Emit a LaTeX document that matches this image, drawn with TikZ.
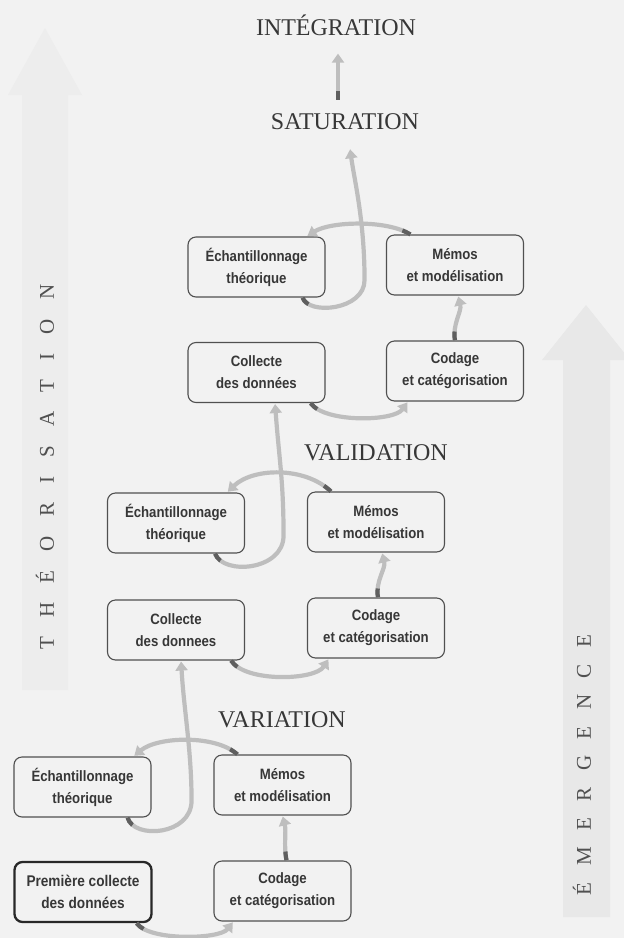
\documentclass[tikz,border=0pt]{standalone}
\usepackage{fontspec}
\setmainfont{Liberation Serif}
\newfontfamily\boxfont{Liberation Sans}[FakeStretch=0.88]
\usetikzlibrary{arrows.meta}
\definecolor{bg}{RGB}{242,242,242}
\definecolor{bandl}{RGB}{237,237,237}
\definecolor{bandr}{RGB}{232,232,232}
\definecolor{boxline}{RGB}{80,80,80}
\definecolor{firstline}{RGB}{40,40,40}
\definecolor{boxtext}{RGB}{55,55,55}
\definecolor{titletext}{RGB}{55,55,55}
\definecolor{sidetext}{RGB}{80,80,80}
\definecolor{flowgray}{RGB}{190,190,190}
\definecolor{flowdark}{RGB}{95,95,95}
\begin{document}
\begin{tikzpicture}[x=1pt,y=1pt,
  box/.style={draw=boxline, line width=1.1pt, rounded corners=8pt, fill=bg,
    minimum width=137pt, minimum height=60pt, align=center, inner sep=2pt,
    text=boxtext, font=\boxfont\bfseries\fontsize{15}{22}\selectfont},
  firstbox/.style={box, line width=2.3pt, draw=firstline,
    font=\boxfont\bfseries\fontsize{15.5}{22}\selectfont},
  title/.style={font=\fontsize{24}{26}\selectfont, text=titletext, inner sep=0pt},
  side/.style={font=\fontsize{21}{24}\selectfont, text=sidetext, inner sep=0pt, rotate=90},
  flow/.style={draw=flowgray, line width=4.2pt, shorten >=1pt,
    -{Triangle[width=12pt,length=9pt]},
    postaction={draw=flowdark, line width=4.2pt, dash pattern=on 9pt off 3000pt, -}},
]
\useasboundingbox (0,0) rectangle (624,-938);
\fill[bg] (0,0) rectangle (624,-938);
% background arrows
\fill[bandl] (22,-690) -- (22,-95) -- (8,-95) -- (45,-28) -- (82,-95) -- (68,-95) -- (68,-690) -- cycle;
\fill[bandr] (563,-917) -- (563,-360) -- (542,-360) -- (586,-305) -- (630,-360) -- (610,-360) -- (610,-917) -- cycle;
% side texts
\node[side] (theo) at (45,-467) {\makebox[365pt][s]{T\hfill H\hfill É\hfill O\hfill R\hfill I\hfill S\hfill A\hfill T\hfill I\hfill O\hfill N}};
\node[side] (emer) at (582,-765) {\makebox[260pt][s]{É\hfill M\hfill E\hfill R\hfill G\hfill E\hfill N\hfill C\hfill E}};
% titles
\node[title] (int) at (336,-25) {INTÉGRATION};
\node[title] (sat) at (345,-122) {SATURATION};
\node[title] (val) at (376,-453) {VALIDATION};
\node[title] (var) at (282,-720) {VARIATION};
% boxes bottom cycle
\node[box] (e1) at (82.5,-787) {Échantillonnage\\théorique};
\node[firstbox] (p1) at (83,-892) {Première collecte\\des données};
\node[box] (m1) at (282.5,-785) {Mémos\\et modélisation};
\node[box] (k1) at (282.5,-891) {Codage\\et catégorisation};
% middle cycle
\node[box] (e2) at (176,-523) {Échantillonnage\\théorique};
\node[box] (m2) at (376,-522) {Mémos\\et modélisation};
\node[box] (c2) at (176,-630) {Collecte\\des donnees};
\node[box] (k2) at (376,-628) {Codage\\et catégorisation};
% top cycle
\node[box] (e3) at (256.5,-267) {Échantillonnage\\théorique};
\node[box] (m3) at (455,-265) {Mémos\\et modélisation};
\node[box] (c3) at (256.5,-372.5) {Collecte\\des données};
\node[box] (k3) at (455,-371) {Codage\\et catégorisation};
% bottom connectors
\draw[flow] ([xshift=-16pt]p1.south east) .. controls +(12,-18) and +(-14,-18) .. ([xshift=20pt]k1.south west);
\draw[flow] ([xshift=4pt]k1.north) .. controls +(-3,16) and +(4,-16) .. (m1.south);
\draw[flow] ([xshift=24pt]m1.north west) .. controls +(-22,20) and +(24,20) .. ([xshift=-18pt]e1.north east);
\draw[flow] ([xshift=-24pt]e1.south east) .. controls +(6,-22) and +(0,-35) .. ([shift={(40pt,17pt)}]e1.south east) .. controls +(0,50) and +(3,-50) .. ([xshift=5pt]c2.south);
% middle connectors
\draw[flow] ([xshift=-14pt]c2.south east) .. controls +(14,-22) and +(-14,-22) .. ([xshift=22pt]k2.south west);
\draw[flow] ([xshift=2pt]k2.north) .. controls +(-3,16) and +(4,-16) .. ([xshift=6pt]m2.south);
\draw[flow] ([xshift=24pt]m2.north west) .. controls +(-26,25) and +(26,25) .. ([xshift=-18pt]e2.north east);
\draw[flow] ([xshift=-30pt]e2.south east) .. controls +(8,-22) and +(0,-35) .. ([shift={(38.5pt,18pt)}]e2.south east) .. controls +(0,55) and +(4,-55) .. ([xshift=18.5pt]c3.south);
% top connectors
\draw[flow] ([xshift=-15pt]c3.south east) .. controls +(14,-20) and +(-14,-20) .. ([xshift=22pt]k3.south west);
\draw[flow] (k3.north) .. controls +(-3,16) and +(4,-16) .. ([xshift=3pt]m3.south);
\draw[flow] ([xshift=24.5pt]m3.north west) .. controls +(-24,15) and +(24,15) .. ([xshift=-19pt]e3.north east);
\draw[flow] ([xshift=-23pt]e3.south east) .. controls +(6,-18) and +(0,-30) .. ([shift={(39pt,17.5pt)}]e3.south east) .. controls +(0,60) and +(4,-30) .. ([shift={(5pt,-18pt)}]sat.south);
\draw[flow] ([shift={(-7pt,14pt)}]sat.north) -- ([shift={(2pt,-17pt)}]int.south);
\end{tikzpicture}
\end{document}
